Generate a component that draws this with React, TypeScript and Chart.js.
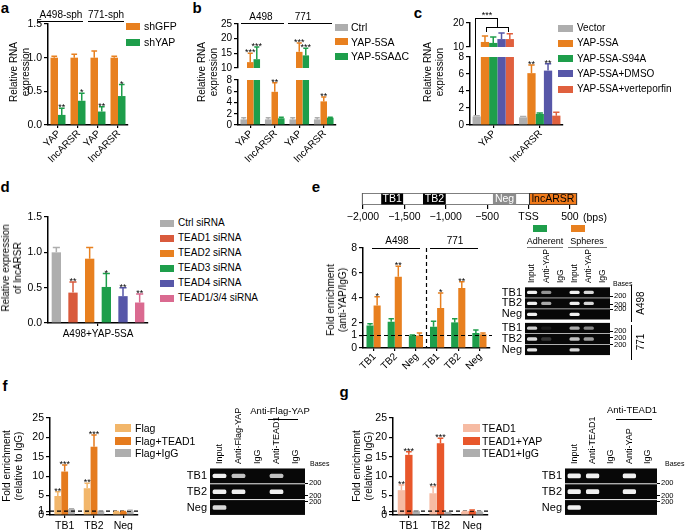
import React, { useEffect, useRef } from 'react';
import { Chart, registerables } from 'chart.js';

Chart.register(...registerables);

const FONT = '"Liberation Sans", Arial, Helvetica, sans-serif';

const C_ORANGE = '#E8801F';
const C_GREEN = '#1E9E4B';
const C_GRAY = '#AEAEAE';
const C_PURPLE = '#5757A8';
const C_RED = '#E0603E';
const C_TEAD1 = '#D95A3C';
const C_PINK = '#DA6A90';
const C_FLAG = '#F2B66A';
const C_FLAGT = '#E57B1E';
const C_TEADL = '#F6BBA3';
const C_TEADY = '#E8572B';

// ---------- panel a ----------
const aCats = ['YAP', 'lncARSR', 'YAP', 'lncARSR'];
const aTicks = [0, 0.5, 1.0, 1.5];
const aNames = ['shGFP', 'shYAP'];
const aShGFP = [1.0, 1.0, 1.0, 1.0];
const aShGFPErr = [0.02, 0.05, 0.1, 0.02];
const aShYAP = [0.15, 0.36, 0.2, 0.43];
const aShYAPErr = [0.1, 0.11, 0.07, 0.17];
const aShYAPStars = ['**', '*', '**', '*'];

// ---------- panel b ----------
const bCats = ['YAP', 'lncARSR', 'YAP', 'lncARSR'];
const bTicksTop = [10, 15, 20, 25];
const bTicksBottom = [0, 2, 4, 6, 8];
const bNames = ['Ctrl', 'YAP-5SA', 'YAP-5SA\u0394C'];
const bCtrl = [1, 1, 1, 1];
const bCtrlErr = [0.3, 0.3, 0.3, 0.3];
const b5SA = [12.0, 5.9, 15.5, 4.2];
const b5SAErr = [3.0, 1.6, 3.0, 0.8];
const b5SAStars = ['***', '**', '***', '**'];
const bDC = [13.0, 1.2, 14.3, 1.3];
const bDCErr = [4.2, 0.2, 2.4, 0.1];
const bDCStars = ['***', '', '***', ''];

// ---------- panel c ----------
const cCats = ['YAP', 'lncARSR'];
const cTicksTop = [10, 20];
const cTicksBottom = [0, 2, 4, 6, 8];
const cNames = ['Vector', 'YAP-5SA', 'YAP-5SA-S94A', 'YAP-5SA+DMSO', 'YAP-5SA+verteporfin'];
const cVector = [1.0, 0.9];
const cVectorErr = [0.1, 0.1];
const c5SA = [12.1, 6.1];
const c5SAErr = [2.5, 0.95];
const c5SAStars = ['', '**'];
const cS94A = [11.7, 1.3];
const cS94AErr = [2.5, 0.1];
const cDMSO = [13.3, 6.4];
const cDMSOErr = [2.5, 0.8];
const cDMSOStars = ['', '**'];
const cVert = [13.3, 1.1];
const cVertErr = [2.2, 0.4];

// ---------- panel d ----------
const dCats = ['A498+YAP-5SA'];
const dTicks = [0, 0.5, 1.0, 1.5];
const dNames = ['Ctrl siRNA', 'TEAD1 siRNA', 'TEAD2 siRNA', 'TEAD3 siRNA', 'TEAD4 siRNA', 'TEAD1/3/4 siRNA'];
const dValues = [1.0, 0.43, 0.91, 0.51, 0.38, 0.29];
const dErrs = [0.07, 0.15, 0.16, 0.19, 0.12, 0.12];
const dStars = ['', '**', '', '*', '**', '**'];
const dColors = [C_GRAY, C_TEAD1, C_ORANGE, C_GREEN, C_PURPLE, C_PINK];

// ---------- panel e ----------
const eDiagNames = ['TB1', 'TB2', 'Neg', 'lncARSR'];
const eDiagStart = [-1780, -1275, -430, 0];
const eDiagEnd = [-1515, -1000, -150, 585];
const eDiagFill = ['#000000', '#000000', '#8C8C8C', '#F07A1A'];
const eDiagText = ['#ffffff', '#ffffff', '#ffffff', '#000000'];
const eDiagTicks = [-2000, -1500, -1000, -500, 0, 500];
const eDiagTickLabels = ['\u22122,000', '\u22121,500', '\u22121,000', '\u2212500', 'TSS', '500'];
const eCats = ['TB1', 'TB2', 'Neg', 'TB1', 'TB2', 'Neg'];
const eTicks = [0, 1, 2, 4, 6, 8];
const eNames = ['Adherent', 'Spheres'];
const eAdh = [1.8, 2.1, 1.0, 1.7, 2.05, 1.2];
const eAdhErr = [0.15, 0.25, 0.05, 0.45, 0.3, 0.25];
const eSph = [3.4, 5.7, 1.0, 3.2, 4.8, 1.1];
const eSphErr = [0.7, 0.85, 0.2, 1.2, 0.5, 0.1];
const eSphStars = ['*', '**', '', '*', '**', ''];
const eLanes = ['Input', 'Anti-YAP', 'IgG', 'Input', 'Anti-YAP', 'IgG'];
const eRowNames = ['TB1', 'TB2', 'Neg', 'TB1', 'TB2', 'Neg'];
const eRowStart = [0, 1.0, 2.0, 3.25, 4.25, 5.25];
const eBands = [
  [1, 0.6, 0, 1, 0.9, 0],
  [1, 0.7, 0, 1, 0.9, 0],
  [1, 0, 0, 1, 0, 0],
  [0.85, 0.08, 0, 0.7, 0.55, 0],
  [0.9, 0.2, 0, 0.8, 0.65, 0],
  [0.95, 0, 0, 0.9, 0, 0],
];
const eMarkers = [0.85, 1.6, 2.05, 4.05, 4.65, 5.25];

// ---------- panel f ----------
const fCats = ['TB1', 'TB2', 'Neg'];
const fgTicks = [0, 1, 5, 10, 15, 20, 25];
const fNames = ['Flag', 'Flag+TEAD1', 'Flag+IgG'];
const fFlag = [4.9, 6.9, 0.8];
const fFlagErr = [1.1, 1.3, 0.1];
const fFlagStars = ['**', '**', ''];
const fFlagT = [11.2, 17.6, 0.8];
const fFlagTErr = [1.7, 3.0, 0.1];
const fFlagTStars = ['***', '***', ''];
const fIgG = [1.5, 1.0, 1.0];
const fIgGErr = [0.1, 0.05, 0.2];
const fLanes = ['Input', 'Anti-Flag-YAP', 'IgG', 'Anti-TEAD1', 'IgG'];
const fgRowNames = ['TB1', 'TB2', 'Neg'];
const fgRowStart = [0, 1.0, 2.0];
const fBands = [
  [1, 0.8, 0, 0.8, 0],
  [1, 1, 0, 1, 0],
  [0.9, 0, 0, 0, 0],
];
const fgMarkers = [0.95, 1.75, 2.15];

// ---------- panel g ----------
const gCats = ['TB1', 'TB2', 'Neg'];
const gNames = ['TEAD1', 'TEAD1+YAP', 'TEAD1+IgG'];
const gTead = [6.4, 5.6, 0.8];
const gTeadErr = [1.3, 1.7, 0.1];
const gTeadStars = ['**', '**', ''];
const gTeadY = [15.5, 18.5, 1.0];
const gTeadYErr = [0.8, 1.3, 0.3];
const gTeadYStars = ['***', '***', ''];
const gIgG = [1.0, 0.6, 0.8];
const gIgGErr = [0.05, 0.05, 0.1];
const gLanes = ['Input', 'Anti-TEAD1', 'IgG', 'Anti-YAP', 'IgG'];
const gBands = [
  [1, 1, 0, 1, 0],
  [1, 1, 0, 1, 0],
  [1, 0, 0, 0, 0],
];

// ================= helpers =================
type Ser = { label: string; color: string; values: (number | null)[]; errs?: number[]; stars?: string[] };
type BarSpec = {
  box: number[];
  area: number[];
  cats: string[];
  series: Ser[];
  yMin: number;
  yMax: number;
  yTicks: number[];
  yFmt?: (v: number) => string;
  yFont?: number;
  showX: boolean;
  xRot: number;
  xFont?: number;
  catPct: number;
  barPct: number;
  dashAt?: number;
  vSep?: number;
};

function extrasPlugin(s: BarSpec) {
  return {
    id: 'extras',
    afterDatasetsDraw(chart: any) {
      const ctx = chart.ctx;
      const ys = chart.scales.y;
      const xs = chart.scales.x;
      const ca = chart.chartArea;
      ctx.save();
      if (s.dashAt != null) {
        const y = ys.getPixelForValue(s.dashAt);
        ctx.strokeStyle = '#000';
        ctx.lineWidth = 1.2;
        ctx.setLineDash([4, 3]);
        ctx.beginPath();
        ctx.moveTo(ca.left, y);
        ctx.lineTo(ca.right + 2, y);
        ctx.stroke();
        ctx.setLineDash([]);
      }
      if (s.vSep != null) {
        const x = (xs.getPixelForValue(Math.floor(s.vSep)) + xs.getPixelForValue(Math.ceil(s.vSep))) / 2;
        ctx.strokeStyle = '#000';
        ctx.lineWidth = 1.2;
        ctx.setLineDash([4, 3]);
        ctx.beginPath();
        ctx.moveTo(x, ca.top);
        ctx.lineTo(x, ca.bottom);
        ctx.stroke();
        ctx.setLineDash([]);
      }
      chart.data.datasets.forEach((ds: any, i: number) => {
        const meta = chart.getDatasetMeta(i);
        meta.data.forEach((el: any, j: number) => {
          const v = ds.data[j];
          if (v == null || v > s.yMax || v < s.yMin) return;
          const e = ds.errs ? ds.errs[j] || 0 : 0;
          const top = Math.min(v + e, s.yMax);
          const p0 = ys.getPixelForValue(v);
          const p1 = ys.getPixelForValue(top);
          const col = ds.backgroundColor;
          if (e > 0) {
            ctx.strokeStyle = col;
            ctx.lineWidth = 1.5;
            ctx.beginPath();
            ctx.moveTo(el.x, p0);
            ctx.lineTo(el.x, p1);
            const cw = Math.max(2.5, el.width * 0.38);
            ctx.moveTo(el.x - cw, p1);
            ctx.lineTo(el.x + cw, p1);
            ctx.stroke();
          }
          const st = ds.stars ? ds.stars[j] : '';
          if (st) {
            ctx.fillStyle = '#000';
            ctx.font = `9px ${FONT}`;
            ctx.textAlign = 'center';
            ctx.textBaseline = 'alphabetic';
            ctx.fillText(st, el.x, p1 + 2);
          }
        });
      });
      ctx.restore();
    },
    afterDraw(chart: any) {
      if (!s.showX || !s.xRot) return;
      const ctx = chart.ctx;
      const xs = chart.scales.x;
      const ca = chart.chartArea;
      ctx.save();
      ctx.fillStyle = '#000';
      ctx.font = `${s.xFont || 10}px ${FONT}`;
      s.cats.forEach((c, i) => {
        const x = xs.getPixelForValue(i);
        ctx.save();
        ctx.translate(x + 1, ca.bottom + 7);
        ctx.rotate((-s.xRot * Math.PI) / 180);
        ctx.textAlign = 'right';
        ctx.textBaseline = 'middle';
        ctx.fillText(c, 0, 0);
        ctx.restore();
      });
      ctx.restore();
    },
  };
}

function barConfig(s: BarSpec): any {
  const [bx, by, bw, bh] = s.box;
  const [L, T, R, B] = s.area;
  const xH = by + bh - B;
  const fmt = s.yFmt || ((v: number) => String(v));
  return {
    type: 'bar',
    data: {
      labels: s.cats,
      datasets: s.series.map((se) => ({
        label: se.label,
        data: se.values,
        backgroundColor: se.color,
        borderWidth: 0,
        categoryPercentage: s.catPct,
        barPercentage: s.barPct,
        clip: 0,
        errs: se.errs,
        stars: se.stars,
      })),
    },
    options: {
      responsive: false,
      animation: false,
      devicePixelRatio: 1,
      layout: {
        autoPadding: false,
        padding: { left: 0, top: T - by, right: bx + bw - R, bottom: s.showX ? 0 : xH },
      },
      plugins: { legend: { display: false }, tooltip: { enabled: false } },
      scales: {
        x: {
          type: 'category',
          offset: true,
          display: s.showX,
          afterFit: (sc: any) => {
            if (s.showX) sc.height = xH;
          },
          ticks: {
            display: !s.xRot,
            font: { family: FONT, size: s.xFont || 10 },
            color: '#000',
            autoSkip: false,
            padding: 2,
          },
          grid: { display: true, drawOnChartArea: false, drawTicks: true, tickLength: 3, color: '#000', lineWidth: 1.2, offset: false },
          border: { display: true, color: '#000', width: 1.5 },
        },
        y: {
          type: 'linear',
          min: s.yMin,
          max: s.yMax,
          afterBuildTicks: (sc: any) => {
            sc.ticks = s.yTicks.map((v) => ({ value: v }));
          },
          afterFit: (sc: any) => {
            sc.width = L - bx;
          },
          ticks: { autoSkip: false, font: { family: FONT, size: s.yFont || 10 }, color: '#000', padding: 2, callback: (v: number) => fmt(v) },
          grid: { display: true, drawOnChartArea: false, drawTicks: true, tickLength: 4, color: '#000', lineWidth: 1.2 },
          border: { display: true, color: '#000', width: 1.5 },
        },
      },
    },
    plugins: [extrasPlugin(s)],
  };
}

type GelSpec = {
  box: number[];
  area: number[];
  lanes: string[];
  rowNames: string[];
  rowStart: number[];
  rowH: number;
  bands: number[][];
  yMax: number;
  markers: number[];
  laneFont: number;
  rowFont: number;
  bandH: number;
  bandPct: number;
};

function gelConfig(g: GelSpec): any {
  const [bx, by, bw, bh] = g.box;
  const [L, T, R, B] = g.area;
  const mids = g.rowStart.map((s) => s + g.rowH / 2);
  return {
    type: 'bar',
    data: {
      labels: g.lanes,
      datasets: g.bands.map((row, ri) => ({
        data: row.map((b) => (b > 0 ? [mids[ri] - g.bandH / 2, mids[ri] + g.bandH / 2] : null)),
        backgroundColor: row.map((b) => `rgba(240,240,240,${b})`),
        borderWidth: 0,
        borderRadius: 1.5,
        borderSkipped: false,
        grouped: false,
        barPercentage: g.bandPct,
        categoryPercentage: 1,
      })),
    },
    options: {
      responsive: false,
      animation: false,
      devicePixelRatio: 1,
      layout: { autoPadding: false, padding: { left: 0, top: T - by, right: 0, bottom: by + bh - B } },
      plugins: { legend: { display: false }, tooltip: { enabled: false } },
      scales: {
        x: { type: 'category', offset: true, display: false },
        y: {
          type: 'linear',
          position: 'left',
          reverse: true,
          min: 0,
          max: g.yMax,
          afterBuildTicks: (sc: any) => {
            sc.ticks = mids.map((v) => ({ value: v }));
          },
          afterFit: (sc: any) => {
            sc.width = L - bx;
          },
          ticks: {
            autoSkip: false,
            font: { family: FONT, size: g.rowFont },
            color: '#000',
            padding: 3,
            callback: (_v: number, i: number) => g.rowNames[i],
          },
          grid: { display: false, drawTicks: false },
          border: { display: false },
        },
        y2: {
          type: 'linear',
          position: 'right',
          reverse: true,
          min: 0,
          max: g.yMax,
          afterBuildTicks: (sc: any) => {
            sc.ticks = g.markers.map((v) => ({ value: v }));
          },
          afterFit: (sc: any) => {
            sc.width = bx + bw - R;
          },
          ticks: { autoSkip: false, font: { family: FONT, size: 7.5 }, color: '#000', padding: 1, callback: () => '200' },
          grid: { display: true, drawOnChartArea: false, drawTicks: true, tickLength: 3, color: '#000', lineWidth: 1 },
          border: { display: false },
        },
      },
    },
    plugins: [
      {
        id: 'gelbg',
        beforeDatasetsDraw(chart: any) {
          const ctx = chart.ctx;
          const ys = chart.scales.y;
          const ca = chart.chartArea;
          ctx.save();
          ctx.fillStyle = '#080808';
          g.rowStart.forEach((s) => {
            const t = ys.getPixelForValue(s + 0.03);
            const b = ys.getPixelForValue(s + g.rowH - 0.03);
            ctx.fillRect(ca.left, t, ca.right - ca.left, b - t);
          });
          ctx.restore();
        },
        afterDraw(chart: any) {
          const ctx = chart.ctx;
          const xs = chart.scales.x;
          const ca = chart.chartArea;
          ctx.save();
          ctx.fillStyle = '#000';
          ctx.font = `${g.laneFont}px ${FONT}`;
          g.lanes.forEach((ln, i) => {
            const x = xs.getPixelForValue(i);
            ctx.save();
            ctx.translate(x, ca.top - 4);
            ctx.rotate(-Math.PI / 2);
            ctx.textAlign = 'left';
            ctx.textBaseline = 'middle';
            ctx.fillText(ln, 0, 0);
            ctx.restore();
          });
          ctx.restore();
        },
      },
    ],
  };
}

function diagramConfig(box: number[], area: number[]): any {
  const [bx, by, bw, bh] = box;
  const [L, T, R, B] = area;
  const segs = eDiagNames.map((n, i) => ({
    label: n,
    data: [[eDiagStart[i], eDiagEnd[i]]],
    backgroundColor: eDiagFill[i],
    borderColor: i === 3 ? '#333' : eDiagFill[i],
    borderWidth: i === 3 ? 1.2 : 0,
    borderSkipped: false,
    grouped: false,
    barPercentage: i === 3 ? 1 : 0.92,
    categoryPercentage: 1,
    textColor: eDiagText[i],
  }));
  return {
    type: 'bar',
    data: {
      labels: ['promoter'],
      datasets: [
        ...segs,
        {
          label: 'region',
          data: [[-2012, 585]],
          backgroundColor: '#fff',
          borderColor: '#555',
          borderWidth: 1.2,
          borderSkipped: false,
          grouped: false,
          barPercentage: 1,
          categoryPercentage: 1,
        },
      ],
    },
    options: {
      indexAxis: 'y',
      responsive: false,
      animation: false,
      devicePixelRatio: 1,
      layout: { autoPadding: false, padding: { left: L - bx, top: T - by, right: bx + bw - R, bottom: 0 } },
      plugins: { legend: { display: false }, tooltip: { enabled: false } },
      scales: {
        x: {
          type: 'linear',
          min: -2030,
          max: 600,
          afterBuildTicks: (sc: any) => {
            sc.ticks = eDiagTicks.map((v) => ({ value: v }));
          },
          afterFit: (sc: any) => {
            sc.height = by + bh - B;
          },
          ticks: {
            autoSkip: false,
            maxRotation: 0,
            font: { family: FONT, size: 10.5 },
            color: '#000',
            padding: 2,
            callback: (_v: number, i: number) => eDiagTickLabels[i],
          },
          grid: { display: true, drawOnChartArea: false, drawTicks: true, tickLength: 4, color: '#000', lineWidth: 1.2 },
          border: { display: false },
        },
        y: { type: 'category', display: false },
      },
    },
    plugins: [
      {
        id: 'seglabels',
        afterDatasetsDraw(chart: any) {
          const ctx = chart.ctx;
          ctx.save();
          ctx.font = `10.5px ${FONT}`;
          ctx.textAlign = 'center';
          ctx.textBaseline = 'middle';
          chart.data.datasets.forEach((ds: any, i: number) => {
            if (!ds.textColor) return;
            const el = chart.getDatasetMeta(i).data[0];
            ctx.fillStyle = ds.textColor;
            ctx.fillText(ds.label, (el.x + el.base) / 2, el.y + 0.5);
          });
          ctx.restore();
        },
      },
    ],
  };
}

function ChartCanvas({ box, make }: { box: number[]; make: () => any }) {
  const ref = useRef<HTMLCanvasElement>(null);
  useEffect(() => {
    const ch = new Chart(ref.current as HTMLCanvasElement, make());
    return () => ch.destroy();
  }, []);
  return (
    <canvas
      ref={ref}
      width={box[2]}
      height={box[3]}
      style={{ position: 'absolute', left: box[0], top: box[1], width: box[2], height: box[3] }}
    />
  );
}

function Txt({ x, y, s, size = 10, bold = false, rot = 0, align = 'center', lh = 1.15, color = '#000' }: any) {
  const tx = align === 'left' ? '0' : align === 'right' ? '-100%' : '-50%';
  return (
    <div
      style={{
        position: 'absolute',
        left: x,
        top: y,
        transform: `translate(${tx}, -50%) rotate(${rot}deg)`,
        fontFamily: FONT,
        fontSize: size,
        fontWeight: bold ? 700 : 400,
        whiteSpace: 'pre',
        lineHeight: lh,
        textAlign: 'center',
        color,
      }}
    >
      {s}
    </div>
  );
}

function Ln({ x, y, w, h, c = '#000' }: any) {
  return <div style={{ position: 'absolute', left: x, top: y, width: w, height: h, background: c }} />;
}

function Legend({ x, y, dy, sw, sh, gap, size, names, colors }: any) {
  return (
    <>
      {names.map((n: string, i: number) => (
        <React.Fragment key={i}>
          <div style={{ position: 'absolute', left: x, top: y + i * dy - sh / 2, width: sw, height: sh, background: colors[i] }} />
          <Txt x={x + sw + gap} y={y + i * dy} s={n} size={size} align="left" lh={1} />
        </React.Fragment>
      ))}
    </>
  );
}

const fmt1 = (v: number) => v.toFixed(1);

// ================= specs =================
const aSpec: BarSpec = {
  box: [0, 0, 135, 165],
  area: [48, 24, 128, 125],
  cats: aCats,
  series: [
    { label: aNames[0], color: C_ORANGE, values: aShGFP, errs: aShGFPErr },
    { label: aNames[1], color: C_GREEN, values: aShYAP, errs: aShYAPErr, stars: aShYAPStars },
  ],
  yMin: 0,
  yMax: 1.5,
  yTicks: aTicks,
  yFmt: fmt1,
  yFont: 10.5,
  showX: true,
  xRot: 45,
  catPct: 0.75,
  barPct: 1,
};

const bSeries: Ser[] = [
  { label: bNames[0], color: C_GRAY, values: bCtrl, errs: bCtrlErr },
  { label: bNames[1], color: C_ORANGE, values: b5SA, errs: b5SAErr, stars: b5SAStars },
  { label: bNames[2], color: C_GREEN, values: bDC, errs: bDCErr, stars: bDCStars },
];
const bTopSpec: BarSpec = {
  box: [195, 10, 145, 70],
  area: [238, 24, 336, 68],
  cats: bCats,
  series: bSeries,
  yMin: 10,
  yMax: 25,
  yTicks: bTicksTop,
  showX: false,
  xRot: 45,
  catPct: 0.8,
  barPct: 1,
};
const bBotSpec: BarSpec = {
  box: [195, 68, 145, 97],
  area: [238, 80, 336, 125],
  cats: bCats,
  series: bSeries,
  yMin: 0,
  yMax: 8,
  yTicks: bTicksBottom,
  showX: true,
  xRot: 45,
  catPct: 0.8,
  barPct: 1,
};

const cSeries: Ser[] = [
  { label: cNames[0], color: C_GRAY, values: cVector, errs: cVectorErr },
  { label: cNames[1], color: C_ORANGE, values: c5SA, errs: c5SAErr, stars: c5SAStars },
  { label: cNames[2], color: C_GREEN, values: cS94A, errs: cS94AErr },
  { label: cNames[3], color: C_PURPLE, values: cDMSO, errs: cDMSOErr, stars: cDMSOStars },
  { label: cNames[4], color: C_RED, values: cVert, errs: cVertErr },
];
const cTopSpec: BarSpec = {
  box: [440, 10, 130, 50],
  area: [470, 23, 563, 47],
  cats: cCats,
  series: cSeries,
  yMin: 10,
  yMax: 20,
  yTicks: cTicksTop,
  showX: false,
  xRot: 45,
  catPct: 0.89,
  barPct: 1,
};
const cBotSpec: BarSpec = {
  box: [440, 45, 130, 120],
  area: [470, 57, 563, 125],
  cats: cCats,
  series: cSeries,
  yMin: 0,
  yMax: 8,
  yTicks: cTicksBottom,
  showX: true,
  xRot: 45,
  catPct: 0.89,
  barPct: 1,
};

const dSpec: BarSpec = {
  box: [0, 205, 155, 140],
  area: [48, 217, 148, 323],
  cats: dCats,
  series: dNames.map((n, i) => ({
    label: n,
    color: dColors[i],
    values: [dValues[i]],
    errs: [dErrs[i]],
    stars: [dStars[i]],
  })),
  yMin: 0,
  yMax: 1.5,
  yTicks: dTicks,
  yFmt: fmt1,
  yFont: 10.5,
  showX: true,
  xRot: 0,
  xFont: 10,
  catPct: 1,
  barPct: 0.56,
};

const eSpec: BarSpec = {
  box: [330, 235, 165, 135],
  area: [363, 248, 490, 348],
  cats: eCats,
  series: [
    { label: eNames[0], color: C_GREEN, values: eAdh, errs: eAdhErr },
    { label: eNames[1], color: C_ORANGE, values: eSph, errs: eSphErr, stars: eSphStars },
  ],
  yMin: 0,
  yMax: 8,
  yTicks: eTicks,
  yFont: 10.5,
  showX: true,
  xRot: 45,
  catPct: 0.67,
  barPct: 1,
  dashAt: 1,
  vSep: 2.5,
};

const fSpec: BarSpec = {
  box: [0, 405, 145, 125],
  area: [50, 418, 138, 515],
  cats: fCats,
  series: [
    { label: fNames[0], color: C_FLAG, values: fFlag, errs: fFlagErr, stars: fFlagStars },
    { label: fNames[1], color: C_FLAGT, values: fFlagT, errs: fFlagTErr, stars: fFlagTStars },
    { label: fNames[2], color: C_GRAY, values: fIgG, errs: fIgGErr },
  ],
  yMin: 0,
  yMax: 25,
  yTicks: fgTicks,
  yFont: 10.5,
  showX: true,
  xRot: 0,
  xFont: 10.5,
  catPct: 0.7,
  barPct: 1,
  dashAt: 1,
};

const gSpec: BarSpec = {
  box: [350, 405, 145, 125],
  area: [393, 418, 488, 515],
  cats: gCats,
  series: [
    { label: gNames[0], color: C_TEADL, values: gTead, errs: gTeadErr, stars: gTeadStars },
    { label: gNames[1], color: C_TEADY, values: gTeadY, errs: gTeadYErr, stars: gTeadYStars },
    { label: gNames[2], color: C_GRAY, values: gIgG, errs: gIgGErr },
  ],
  yMin: 0,
  yMax: 25,
  yTicks: fgTicks,
  yFont: 10.5,
  showX: true,
  xRot: 0,
  xFont: 10.5,
  catPct: 0.7,
  barPct: 1,
  dashAt: 1,
};

const eGel: GelSpec = {
  box: [495, 245, 137, 120],
  area: [525, 287, 610, 361],
  lanes: eLanes,
  rowNames: eRowNames,
  rowStart: eRowStart,
  rowH: 1,
  bands: eBands,
  yMax: 6.25,
  markers: eMarkers,
  laneFont: 8.5,
  rowFont: 11,
  bandH: 0.3,
  bandPct: 0.72,
};

const fGel: GelSpec = {
  box: [180, 400, 145, 125],
  area: [210, 468, 305, 516],
  lanes: fLanes,
  rowNames: fgRowNames,
  rowStart: fgRowStart,
  rowH: 1,
  bands: fBands,
  yMax: 3,
  markers: fgMarkers,
  laneFont: 9,
  rowFont: 11,
  bandH: 0.28,
  bandPct: 0.72,
};

const gGel: GelSpec = {
  box: [535, 400, 145, 125],
  area: [565, 468, 657, 516],
  lanes: gLanes,
  rowNames: fgRowNames,
  rowStart: fgRowStart,
  rowH: 1,
  bands: gBands,
  yMax: 3,
  markers: fgMarkers,
  laneFont: 9,
  rowFont: 11,
  bandH: 0.3,
  bandPct: 0.72,
};

const diagBox = [340, 185, 270, 47];
const diagArea = [360.5, 193, 578.2, 205];

export default function App() {
  return (
    <div
      style={{
        position: 'absolute',
        left: 0,
        top: 0,
        width: 685,
        height: 530,
        background: '#fff',
        overflow: 'hidden',
        fontFamily: FONT,
        color: '#000',
      }}
    >
      {/* panel letters */}
      <Txt x={5} y={8} s="a" size={15} bold />
      <Txt x={197} y={8} s="b" size={15} bold />
      <Txt x={418} y={13} s="c" size={15} bold />
      <Txt x={5} y={187} s="d" size={15} bold />
      <Txt x={316} y={187} s="e" size={15} bold />
      <Txt x={5} y={386} s="f" size={15} bold />
      <Txt x={344} y={392} s="g" size={15} bold />

      {/* a */}
      <ChartCanvas box={aSpec.box} make={() => barConfig(aSpec)} />
      <Txt x={61} y={15} s="A498-sph" size={10} />
      <Ln x={38} y={21} w={45} h={1.3} />
      <Txt x={106} y={15} s="771-sph" size={10} />
      <Ln x={88} y={21} w={36} h={1.3} />
      <Txt x={20} y={72} s={'Relative RNA\nexpression'} size={10} rot={-90} lh={1.2} />
      <Legend x={126} y={26} dy={16} sw={14} sh={7} gap={4} size={10.5} names={aNames} colors={[C_ORANGE, C_GREEN]} />

      {/* b */}
      <ChartCanvas box={bTopSpec.box} make={() => barConfig(bTopSpec)} />
      <ChartCanvas box={bBotSpec.box} make={() => barConfig(bBotSpec)} />
      <Txt x={261} y={17} s="A498" size={10} />
      <Ln x={241} y={23} w={43} h={1.3} />
      <Txt x={303} y={17} s="771" size={10} />
      <Ln x={288} y={23} w={44} h={1.3} />
      <Txt x={208} y={72} s={'Relative RNA\nexpression'} size={10} rot={-90} lh={1.2} />
      <Legend x={335} y={27} dy={14.5} sw={13} sh={7} gap={3} size={10.5} names={bNames} colors={[C_GRAY, C_ORANGE, C_GREEN]} />

      {/* c */}
      <ChartCanvas box={cTopSpec.box} make={() => barConfig(cTopSpec)} />
      <ChartCanvas box={cBotSpec.box} make={() => barConfig(cBotSpec)} />
      <Txt x={434} y={72} s={'Relative RNA\nexpression'} size={10} rot={-90} lh={1.2} />
      <Legend
        x={558}
        y={28}
        dy={15.3}
        sw={15}
        sh={7}
        gap={4}
        size={10}
        names={cNames}
        colors={[C_GRAY, C_ORANGE, C_GREEN, C_PURPLE, C_RED]}
      />
      <Ln x={475} y={18} w={1.3} h={97} />
      <Ln x={475} y={18} w={23} h={1.3} />
      <Ln x={497} y={18} w={1.3} h={9} />
      <Ln x={486} y={27} w={23} h={1.3} />
      <Ln x={486} y={27} w={1.3} h={5} />
      <Ln x={508} y={27} w={1.3} h={5} />
      <Txt x={487} y={15} s="***" size={9} />

      {/* d */}
      <ChartCanvas box={dSpec.box} make={() => barConfig(dSpec)} />
      <Txt x={12} y={268} s={'Relative expression\nof lncARSR'} size={10} rot={-90} lh={1.2} />
      <Legend x={160} y={223} dy={15} sw={14} sh={7} gap={4} size={10} names={dNames} colors={dColors} />

      {/* e */}
      <ChartCanvas box={diagBox} make={() => diagramConfig(diagBox, diagArea)} />
      <Txt x={595} y={217} s="(bps)" size={10.5} />
      <Ln x={533} y={225} w={14} h={7} c={C_GREEN} />
      <Ln x={571} y={225} w={14} h={7} c={C_ORANGE} />
      <Txt x={545} y={241} s={eNames[0]} size={9} />
      <Txt x={587} y={241} s={eNames[1]} size={9} />
      <Ln x={527} y={247} w={36} h={1.3} c="#777" />
      <Ln x={568} y={247} w={39} h={1.3} c="#777" />
      <ChartCanvas box={eSpec.box} make={() => barConfig(eSpec)} />
      <Txt x={397} y={241} s="A498" size={10} />
      <Ln x={372} y={248} w={48} h={1.3} />
      <Txt x={455} y={241} s="771" size={10} />
      <Ln x={430} y={248} w={48} h={1.3} />
      <Txt x={337} y={300} s={'Fold enrichment\n(anti-YAP/IgG)'} size={10} rot={-90} lh={1.2} />
      <ChartCanvas box={eGel.box} make={() => gelConfig(eGel)} />
      <Txt x={613} y={284} s="Bases" size={7} align="left" />
      <Ln x={631} y={285} w={1.2} h={37} />
      <Txt x={641} y={303} s="A498" size={10} rot={-90} />
      <Ln x={631} y={325} w={1.2} h={35} />
      <Txt x={641} y={342} s="771" size={10} rot={-90} />

      {/* f */}
      <ChartCanvas box={fSpec.box} make={() => barConfig(fSpec)} />
      <Txt x={13} y={466} s={'Fold enrichment\n(relative to IgG)'} size={10} rot={-90} lh={1.2} />
      <Legend x={115} y={428} dy={12.5} sw={16} sh={8} gap={4} size={10.5} names={fNames} colors={[C_FLAG, C_FLAGT, C_GRAY]} />
      <ChartCanvas box={fGel.box} make={() => gelConfig(fGel)} />
      <Txt x={280} y={411} s="Anti-Flag-YAP" size={9.5} />
      <Ln x={268} y={419} w={30} h={1.2} />
      <Txt x={310} y={464} s="Bases" size={7} align="left" />

      {/* g */}
      <ChartCanvas box={gSpec.box} make={() => barConfig(gSpec)} />
      <Txt x={363} y={466} s={'Fold enrichment\n(relative to IgG)'} size={10} rot={-90} lh={1.2} />
      <Legend x={463} y={428} dy={12.5} sw={17} sh={8} gap={2} size={10.5} names={gNames} colors={[C_TEADL, C_TEADY, C_GRAY]} />
      <ChartCanvas box={gGel.box} make={() => gelConfig(gGel)} />
      <Txt x={632} y={410} s="Anti-TEAD1" size={9.5} />
      <Ln x={616} y={419} w={36} h={1.2} />
      <Txt x={665} y={464} s="Bases" size={7} align="left" />
    </div>
  );
}
